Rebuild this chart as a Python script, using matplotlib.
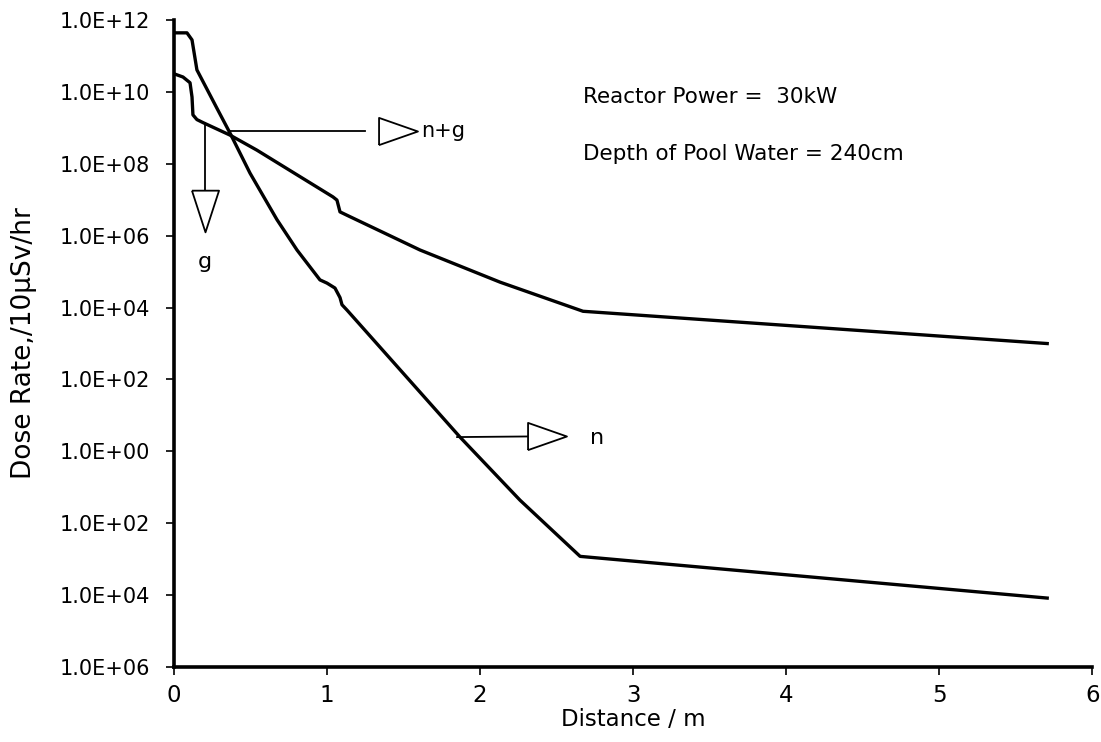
import numpy as np
import matplotlib
matplotlib.use("Agg")
import matplotlib.pyplot as plt
from matplotlib.ticker import NullLocator

plt.rcParams['font.family'] = ['DejaVu Sans']

# distance (m) and dose rate
n_dist = [0.0, 0.085, 0.118, 0.150, 0.281, 0.366, 0.497, 0.673, 0.804, 0.954,
          1.000, 1.052, 1.085, 1.098, 1.131, 1.869, 2.261, 2.654, 5.706]
n_dose = [4.4e11, 4.4e11, 2.8e11, 4.1e10, 3.5e9, 7.2e8, 5.5e7, 2.8e6, 4.0e5, 5.9e4,
          4.8e4, 3.5e4, 1.9e4, 1.2e4, 8.5e3, 2.5, 4.4e-2, 1.2e-3, 8.3e-5]

g_dist = [0.0, 0.059, 0.105, 0.118, 0.124, 0.150, 0.190, 0.366, 0.542, 1.039,
          1.065, 1.085, 1.131, 1.608, 2.131, 2.673, 5.706]
g_dose = [3.2e10, 2.6e10, 1.8e10, 7.2e9, 2.3e9, 1.7e9, 1.4e9, 6.3e8, 2.4e8, 1.2e7,
          9.8e6, 4.6e6, 3.7e6, 4.0e5, 5.1e4, 7.9e3, 1.0e3]

y_ticks = [1e12, 1e10, 1e8, 1e6, 1e4, 1e2, 1e0, 1e-2, 1e-4, 1e-6]
y_labels = ["1.0E+12", "1.0E+10", "1.0E+08", "1.0E+06", "1.0E+04", "1.0E+02",
            "1.0E+00", "1.0E+02", "1.0E+04", "1.0E+06"]
x_ticks = [0, 1, 2, 3, 4, 5, 6]

fig = plt.figure(figsize=(11.01, 7.42), dpi=100)
ax = fig.add_axes([0.158, 0.101, 0.834, 0.872])

ax.plot(n_dist, n_dose, color='black', lw=2.4, solid_joinstyle='round')
ax.plot(g_dist, g_dose, color='black', lw=2.4, solid_joinstyle='round')

ax.set_yscale('log')
ax.set_xlim(0, 6)
ax.set_ylim(1e-6, 1e12)
ax.set_yticks(y_ticks)
ax.set_yticklabels(y_labels)
ax.yaxis.set_minor_locator(NullLocator())
ax.set_xticks(x_ticks)
ax.tick_params(axis='y', labelsize=15, length=6, width=1.2, direction='out', pad=11)
ax.tick_params(axis='x', labelsize=16.5, length=6, width=1.2, direction='out', pad=6)
for s in ['top', 'right']:
    ax.spines[s].set_visible(False)
for s in ['left', 'bottom']:
    ax.spines[s].set_linewidth(2.6)

ax.set_xlabel("Distance / m", fontsize=16.5)
ax.xaxis.set_label_coords(0.5, -0.064)
ax.set_ylabel("Dose Rate,/10µSv/hr", fontsize=19)
ax.yaxis.set_label_coords(-0.149, 0.5)

# open triangle pointers
tri_right = [(-1, -0.7), (1, 0), (-1, 0.7), (-1, -0.7)]
tri_down = [(-0.65, 1), (0, -1), (0.65, 1), (-0.65, 1)]

# n+g
ax.plot([0.366, 1.25], [8.1e8, 8.1e8], color='black', lw=1.3)
ax.plot([1.461], [8.1e8], marker=tri_right, ms=28, mfc='white', mec='black', mew=1.3)
ax.text(1.615, 8.1e8, "n+g", fontsize=15, va='center', ha='left')

# g
ax.plot([0.203, 0.203], [1.35e9, 1.9e7], color='black', lw=1.3)
ax.plot([0.203], [5.0e6], marker=tri_down, ms=30, mfc='white', mec='black', mew=1.3)
ax.text(0.203, 1.8e5, "g", fontsize=16, va='center', ha='center')

# n
ax.plot([1.85, 2.31], [2.5, 2.6], color='black', lw=1.3)
ax.plot([2.438], [2.6], marker=tri_right, ms=28, mfc='white', mec='black', mew=1.3)
ax.text(2.72, 2.3, "n", fontsize=16, va='center', ha='left')

ax.text(2.673, 7.0e9, "Reactor Power =  30kW", fontsize=15.5, va='center', ha='left')
ax.text(2.673, 1.9e8, "Depth of Pool Water = 240cm", fontsize=15.5, va='center', ha='left')

fig.savefig("out.png", dpi=100)
